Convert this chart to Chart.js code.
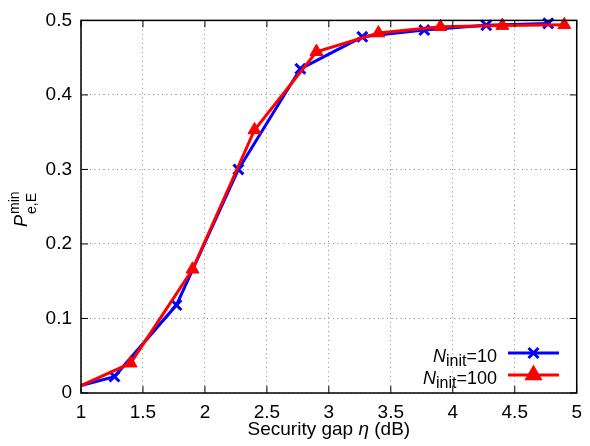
<!DOCTYPE html>
<html>
<head>
<meta charset="utf-8">
<script src="https://cdn.jsdelivr.net/npm/chart.js@4.4.0/dist/chart.umd.min.js"></script>
<style>
html,body{margin:0;padding:0;background:#fff;}
#c{display:block;}
</style>
</head>
<body>
<canvas id="c" width="590" height="446"></canvas>
<script>
// ---- data ----
const blueX = [1, 1.27, 1.77, 2.27, 2.77, 3.27, 3.77, 4.27, 4.77];
const blueY = [0.010, 0.022, 0.118, 0.300, 0.435, 0.478, 0.487, 0.4935, 0.496];
const redX  = [1, 1.40, 1.90, 2.40, 2.90, 3.40, 3.90, 4.40, 4.90];
const redY  = [0.010, 0.040, 0.166, 0.353, 0.458, 0.483, 0.4915, 0.493, 0.494];
const xTickLabels = ['1','1.5','2','2.5','3','3.5','4','4.5','5'];
const yTickLabels = ['0','0.1','0.2','0.3','0.4','0.5'];
const seriesNames = ['10','100'];

const FONT = '"Liberation Sans", Arial, Helvetica, sans-serif';
const BLUE = 'rgb(0,0,255)';
const RED = 'rgb(255,0,0)';

function pts(xs, ys){ return xs.map((x,i)=>({x:x, y:ys[i]})); }
function radii(n, r){ const a=[]; for(let i=0;i<n;i++) a.push(i===0?0:r); return a; }

const blueStyle = {pointStyle:'crossRot', radius:7, borderWidth:3, color:BLUE};
const redStyle  = {pointStyle:'triangle', radius:7.5, borderWidth:1, color:RED};

const framePlugin = {
  id:'frame',
  afterDraw(chart){
    const ctx = chart.ctx, a = chart.chartArea;
    const xs = chart.scales.x, ys = chart.scales.y;
    ctx.save();
    ctx.strokeStyle = '#000';
    ctx.lineWidth = 1.5;
    ctx.strokeRect(a.left, a.top, a.right-a.left, a.bottom-a.top);
    ctx.lineWidth = 1;
    const T = 7;
    ctx.beginPath();
    xs.ticks.forEach(t=>{
      const p = xs.getPixelForValue(t.value);
      ctx.moveTo(p, a.bottom); ctx.lineTo(p, a.bottom-T);
      ctx.moveTo(p, a.top); ctx.lineTo(p, a.top+T);
    });
    ys.ticks.forEach(t=>{
      const p = ys.getPixelForValue(t.value);
      ctx.moveTo(a.left, p); ctx.lineTo(a.left+T, p);
      ctx.moveTo(a.right, p); ctx.lineTo(a.right-T, p);
    });
    ctx.stroke();

    // x-axis title with italic eta
    ctx.fillStyle = '#000';
    ctx.textBaseline = 'alphabetic';
    const fN = '19px '+FONT, fI = 'italic 19px '+FONT;
    const parts = [['Security gap ', fN], ['\u03B7', fI], [' (dB)', fN]];
    let w = 0;
    parts.forEach(p=>{ ctx.font=p[1]; w += ctx.measureText(p[0]).width; });
    let x = (a.left+a.right)/2 - w/2;
    ctx.textAlign = 'left';
    parts.forEach(p=>{ ctx.font=p[1]; ctx.fillText(p[0], x, 435); x += ctx.measureText(p[0]).width; });

    // y-axis title P_{e,E}^{min}
    ctx.save();
    ctx.translate(27, 227);
    ctx.rotate(-Math.PI/2);
    ctx.font = 'italic 18px '+FONT;
    ctx.fillText('P', 0, 0);
    const pw = ctx.measureText('P').width;
    ctx.font = '14px '+FONT;
    ctx.fillText('e,E', pw+1, 9);
    ctx.fillText('min', pw+1, -8);
    ctx.restore();

    // legend
    const rows = [
      {name:seriesNames[0], st:blueStyle, y:353},
      {name:seriesNames[1], st:redStyle, y:375}
    ];
    rows.forEach(r=>{
      const base = r.y + 9;
      const right = 497;
      ctx.font = '18px '+FONT;
      const eqW = ctx.measureText('='+r.name).width;
      ctx.font = '16px '+FONT;
      const subW = ctx.measureText('init').width;
      ctx.font = 'italic 18px '+FONT;
      const nW = ctx.measureText('N').width;
      let lx = right - eqW - subW - nW;
      ctx.fillStyle = '#000';
      ctx.fillText('N', lx, base); lx += nW;
      ctx.font = '16px '+FONT;
      ctx.fillText('init', lx, base+4); lx += subW;
      ctx.font = '18px '+FONT;
      ctx.fillText('='+r.name, lx, base);
      ctx.strokeStyle = r.st.color;
      ctx.lineWidth = 3;
      ctx.beginPath(); ctx.moveTo(508, r.y); ctx.lineTo(559, r.y); ctx.stroke();
      ctx.fillStyle = r.st.color;
      Chart.helpers.drawPoint(ctx, {pointStyle:r.st.pointStyle, radius:r.st.radius, borderWidth:r.st.borderWidth, rotation:0}, 533.5, r.y);
    });
    ctx.restore();
  }
};

new Chart(document.getElementById('c'), {
  type:'scatter',
  data:{
    datasets:[
      {
        label:'N_init='+seriesNames[0],
        data:pts(blueX, blueY),
        showLine:true,
        borderColor:BLUE,
        backgroundColor:BLUE,
        borderWidth:3,
        pointStyle:blueStyle.pointStyle,
        pointRadius:radii(blueX.length, blueStyle.radius),
        pointBorderWidth:blueStyle.borderWidth,
        pointBorderColor:BLUE,
        pointBackgroundColor:BLUE,
        order:1,
        clip:false
      },
      {
        label:'N_init='+seriesNames[1],
        data:pts(redX, redY),
        showLine:true,
        borderColor:RED,
        backgroundColor:RED,
        borderWidth:3,
        pointStyle:redStyle.pointStyle,
        pointRadius:radii(redX.length, redStyle.radius),
        pointBorderWidth:redStyle.borderWidth,
        pointBorderColor:RED,
        pointBackgroundColor:RED,
        order:0,
        clip:false
      }
    ]
  },
  options:{
    responsive:false,
    animation:false,
    events:[],
    layout:{padding:{left:0, top:18, right:10.5, bottom:0}},
    plugins:{legend:{display:false}, tooltip:{enabled:false}, title:{display:false}},
    scales:{
      x:{
        type:'linear', min:1, max:5,
        afterFit(s){ s.height = 53; },
        border:{display:false, dash:[1,3.5]},
        grid:{color:'#8c8c8c', lineWidth:1, drawTicks:false},
        ticks:{
          stepSize:0.5, padding:8, color:'#000',
          font:{family:FONT, size:19},
          maxRotation:0, autoSkip:false,
          callback:(v,i)=>xTickLabels[i]
        }
      },
      y:{
        type:'linear', min:0, max:0.5,
        afterFit(s){ s.width = 81; },
        border:{display:false, dash:[1,3.5]},
        grid:{color:'#8c8c8c', lineWidth:1, drawTicks:false},
        ticks:{
          stepSize:0.1, padding:9, color:'#000',
          font:{family:FONT, size:19},
          autoSkip:false,
          callback:(v,i)=>yTickLabels[i]
        }
      }
    }
  },
  plugins:[framePlugin]
});
</script>
</body>
</html>
